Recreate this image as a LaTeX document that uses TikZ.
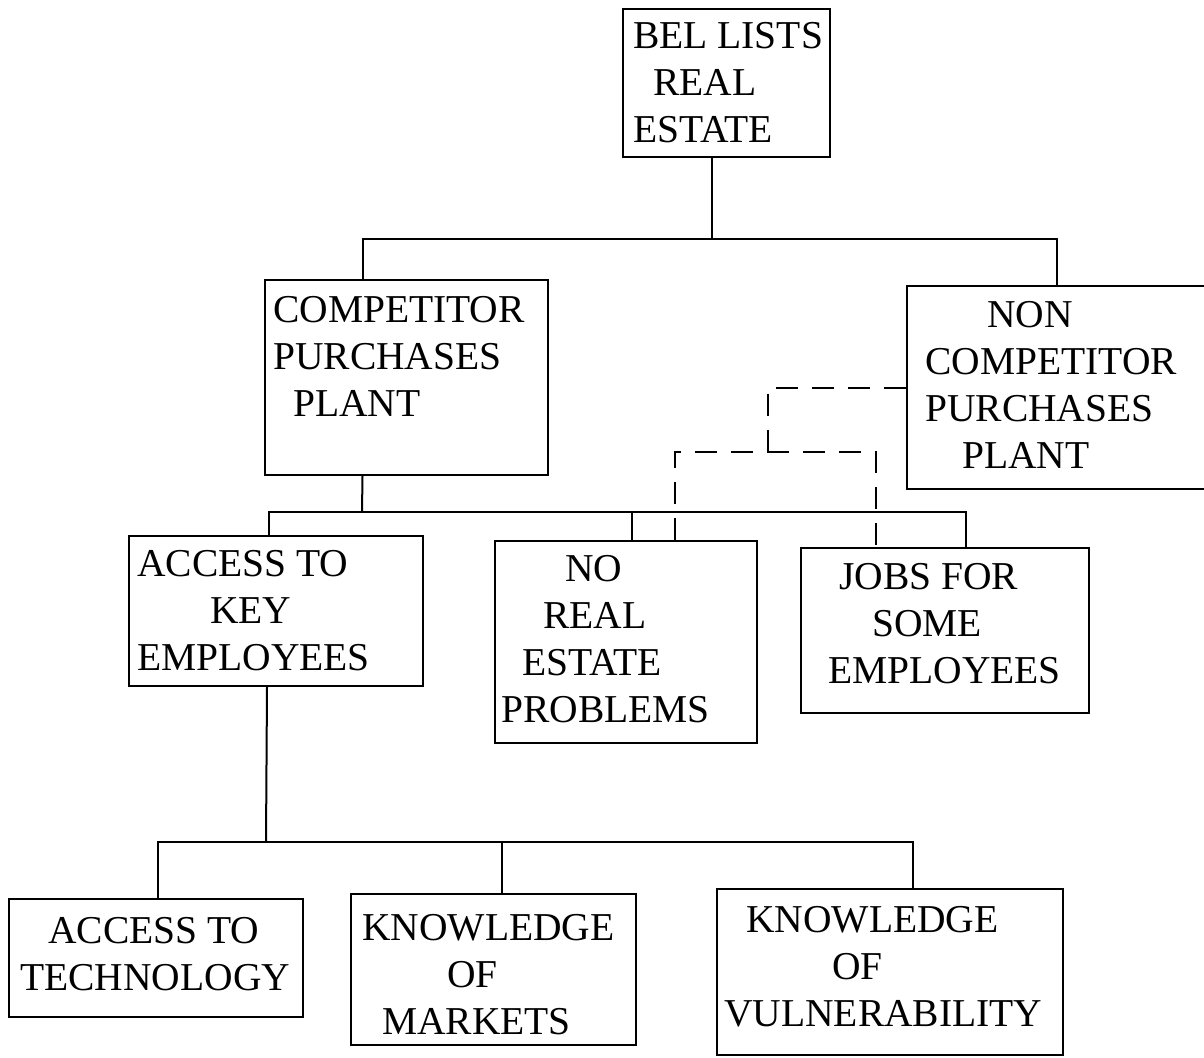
\documentclass[tikz,border=0pt]{standalone}
\usepackage{fontspec}
\setmainfont{Liberation Serif}
\usetikzlibrary{positioning}

\begin{document}
\begin{tikzpicture}[x=1pt, y=-1pt,
		box/.style={draw, line width=2pt, anchor=north west, inner sep=0pt},
		words/.style={anchor=base west, align=left, inner sep=0pt, font=\fontsize{39.5}{47}\selectfont},
		tie/.style={line width=2pt},
		dashtie/.style={line width=2pt, dash pattern=on 22pt off 14pt},
	]
		\useasboundingbox (0,0) rectangle (1204,1057);
		
		% boxes, top to bottom
		\node[box, minimum width=207, minimum height=148] (bel) at (622,8) {};
		\node[box, minimum width=283, minimum height=195] (comp) at (264,279) {};
		\node[box, minimum width=304, minimum height=203] (noncomp) at (906,285) {};
		\node[box, minimum width=294, minimum height=150] (keyemp) at (128,535) {};
		\node[box, minimum width=262, minimum height=202] (norealestate) at (494,540) {};
		\node[box, minimum width=288, minimum height=165] (jobs) at (800,547) {};
		\node[box, minimum width=294, minimum height=118] (tech) at (8,898) {};
		\node[box, minimum width=285, minimum height=151] (markets) at (350,893) {};
		\node[box, minimum width=346, minimum height=166] (vuln) at (716,888) {};
		
		% texts, placed by the baseline of their last line
		\node[words] (bel-txt) at (633,142) {BEL LISTS\\\hspace*{20pt}REAL\\ESTATE};
		\node[words] (comp-txt) at (273,416) {COMPETITOR\\PURCHASES\\\hspace*{20pt}PLANT};
		\node[words] (noncomp-txt) at (925,468) {\hspace*{62pt}NON\\COMPETITOR\\PURCHASES\\\hspace*{37pt}PLANT};
		\node[words] (keyemp-txt) at (137,670) {ACCESS TO\\\hspace*{73pt}KEY\\EMPLOYEES};
		\node[words] (norealestate-txt) at (501,722) {\hspace*{64pt}NO\\\hspace*{42pt}REAL\\\hspace*{21pt}ESTATE\\PROBLEMS};
		\node[words] (jobs-txt) at (828,683) {\hspace*{11pt}JOBS FOR\\\hspace*{44pt}SOME\\EMPLOYEES};
		\node[words] (tech-txt) at (20,990) {\hspace*{28pt}ACCESS TO\\TECHNOLOGY};
		\node[words] (markets-txt) at (362,1034) {KNOWLEDGE\\\hspace*{85pt}OF\\\hspace*{20pt}MARKETS};
		\node[words] (vuln-txt) at (724,1026) {\hspace*{22pt}KNOWLEDGE\\\hspace*{108pt}OF\\VULNERABILITY};
		
		% solid links
		\coordinate (topsplit) at (712,239);
		\coordinate (midsplit) at (362,512);
		\coordinate (lowsplit) at (266,842);
		\draw[tie] (bel.south -| topsplit) -- (topsplit);
		\draw[tie] ([xshift=-44]comp.north) |- (topsplit) -| ([xshift=-2]noncomp.north);
		
		\draw[tie] ([xshift=-44]comp.south) -- (midsplit);
		\draw[tie] ([xshift=-7]keyemp.north) |- (midsplit) -| ([xshift=21]jobs.north);
		\draw[tie] ([xshift=6]norealestate.north) -- ([xshift=6]norealestate.north |- midsplit);
		
		\draw[tie] ([xshift=-9]keyemp.south) -- (lowsplit);
		\draw[tie] ([xshift=2]tech.north) |- (lowsplit) -| ([xshift=23]vuln.north);
		\draw[tie] ([xshift=8]markets.north) -- ([xshift=8]markets.north |- lowsplit);
		
		% dashed links
		\coordinate (dashsplit) at (768,452);
		\draw[dashtie] (noncomp.west) -| (dashsplit);
		\draw[dashtie] ([xshift=49]norealestate.north) |- (dashsplit) -| ([xshift=-69]jobs.north);
	\end{tikzpicture}
\end{document}
